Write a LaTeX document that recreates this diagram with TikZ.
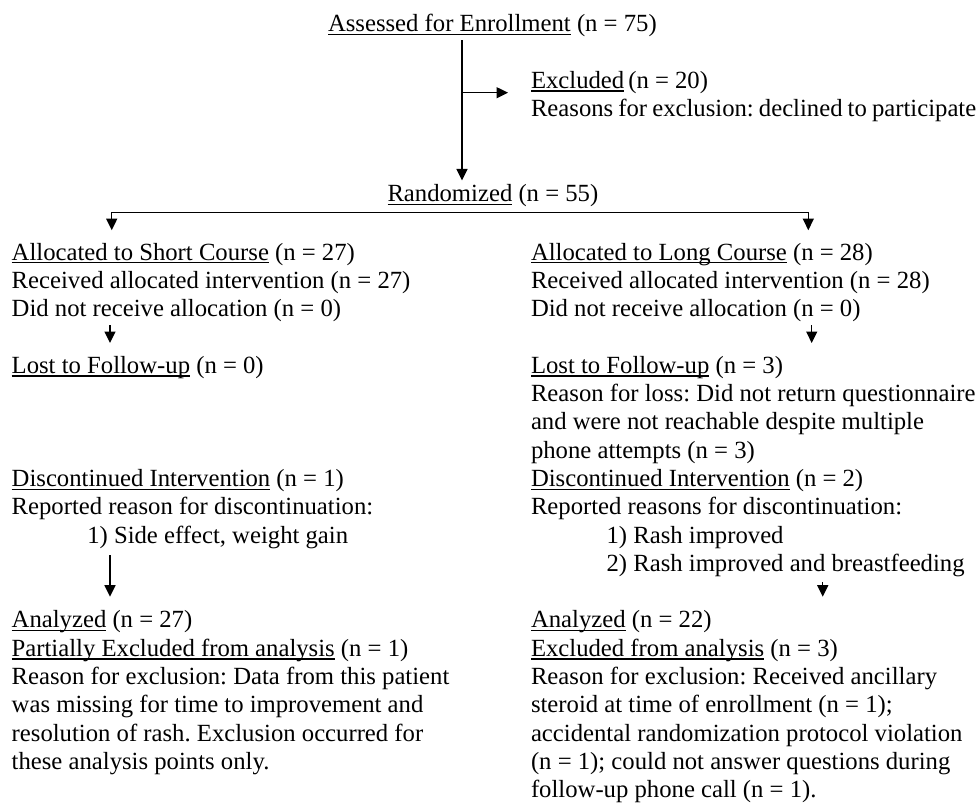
\documentclass[tikz,border=0pt]{standalone}
\usepackage{fontspec}
\setmainfont{Liberation Serif}
\usetikzlibrary{arrows.meta}
\newsavebox{\ulbox}
\newcommand{\uln}[1]{\sbox{\ulbox}{#1}\rlap{\rule[-3.4pt]{\wd\ulbox}{1.3pt}}\usebox{\ulbox}}
\newcommand{\ind}{\hspace*{75.6pt}}
\begin{document}
\begin{tikzpicture}[x=1pt,y=-1pt,
  txt/.style={anchor=north west, inner sep=0pt, outer sep=0pt, align=left,
    font=\fontsize{24.7}{28.3}\selectfont\frenchspacing},
  ln/.style={line width=1.4pt},
  arr/.style={line width=1.4pt, -{Triangle[length=11.5pt,width=11pt]}},
  arrtwo/.style={line width=1.4pt, {Triangle[length=11.5pt,width=11pt]}-{Triangle[length=11.5pt,width=11pt]}}]
\useasboundingbox (0,0) rectangle (976,803);
% top
\node[txt] (assessed) at (328,11.9) {\strut\uln{Assessed for Enrollment} (n = 75)};
\node[txt] (excl) at (531,68.5) {\strut\uln{Excluded}\hspace{4pt}(n = 20)\\\spaceskip=5.1pt Reasons for exclusion: declined to participate\strut};
\node[txt] (rand) at (387.5,181.9) {\strut\uln{Randomized} (n = 55)};
% left column
\node[txt] (sc) at (11.7,240.2) {\strut\uln{Allocated to Short Course} (n = 27)\\Received allocated intervention (n = 27)\\Did not receive allocation (n = 0)\strut};
\node[txt] (lfL) at (11.7,353.4) {\strut\uln{Lost to Follow-up} (n = 0)};
\node[txt] (dcL) at (11.7,466.6) {\strut\uln{Discontinued Intervention} (n = 1)\\Reported reason for discontinuation:\\\ind 1) Side effect, weight gain\strut};
\node[txt] (anL) at (11.7,608.1) {\strut\uln{Analyzed} (n = 27)\\\uln{Partially Excluded from analysis} (n = 1)\\Reason for exclusion: Data from this patient\\was missing for time to improvement and\\resolution of rash. Exclusion occurred for\\these analysis points only.\strut};
% right column
\node[txt] (lc) at (531,240.2) {\strut\uln{Allocated to Long Course} (n = 28)\\Received allocated intervention (n = 28)\\Did not receive allocation (n = 0)\strut};
\node[txt] (lfR) at (531,353.4) {\strut\uln{Lost to Follow-up} (n = 3)\\Reason for loss: Did not return questionnaire\\and were not reachable despite multiple\\phone attempts (n = 3)\strut};
\node[txt] (dcR) at (531,466.6) {\strut\uln{Discontinued Intervention} (n = 2)\\Reported reasons for discontinuation:\\\ind 1) Rash improved\\\ind 2) Rash improved and breastfeeding\strut};
\node[txt] (anR) at (531,608.1) {\strut\uln{Analyzed} (n = 22)\\\uln{Excluded from analysis} (n = 3)\\Reason for exclusion: Received ancillary\\steroid at time of enrollment (n = 1);\\accidental randomization protocol violation\\(n = 1); could not answer questions during\\follow-up phone call (n = 1).\strut};
% coordinates
\coordinate (trunk) at (462,0);
\coordinate (br) at (462,92.7);
\coordinate (spL) at (111.7,212.7);
\coordinate (spR) at (808.3,212.7);
\coordinate (xL) at (110,0);
\coordinate (xR1) at (811.7,0);
\coordinate (xR2) at (822.7,0);
% connectors
\draw[arr, shorten >=1.5pt] (assessed.south -| trunk) -- (rand.north -| trunk);
\draw[arr, shorten >=23pt] (br) -- (br -| excl.west);
\draw[arrtwo, shorten >=10pt, shorten <=10pt] (spL |- sc.north) -- (spL) -- (spR) -- (spR |- lc.north);
\draw[arr, shorten >=10.4pt] (sc.south -| xL) -- (lfL.north -| xL);
\draw[arr, shorten >=10.4pt] (lc.south -| xR1) -- (lfR.north -| xR1);
\draw[arr, shorten <=3.5pt, shorten >=11.4pt] (dcL.south -| xL) -- (anL.north -| xL);
\draw[arr, shorten <=2pt, shorten >=11.4pt] (dcR.south -| xR2) -- (anR.north -| xR2);
\end{tikzpicture}
\end{document}
